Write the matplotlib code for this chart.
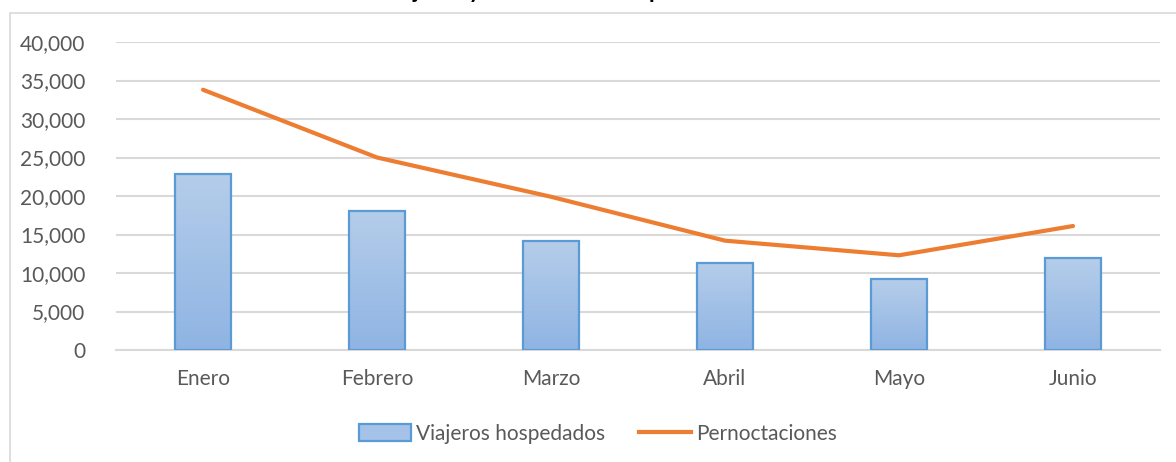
import matplotlib.pyplot as plt
import numpy as np
from matplotlib.patches import Rectangle, Patch
from matplotlib.lines import Line2D
from matplotlib.ticker import FuncFormatter
from matplotlib.colors import LinearSegmentedColormap

plt.rcParams['font.family'] = ['Lato', 'DejaVu Sans']

# datos
meses = ['Enero', 'Febrero', 'Marzo', 'Abril', 'Mayo', 'Junio']
viajeros = [22900, 18100, 14100, 11300, 9200, 11900]
pernoctaciones = [33800, 25000, 19900, 14200, 12300, 16100]
titulo = 'Viajeros y Pernoctaciones por mes'

W, H = 1176, 462
fig = plt.figure(figsize=(W / 100, H / 100), dpi=100)
ax = fig.add_axes([116 / W, (H - 350) / H, (1160 - 116) / W, 308 / H])

x = np.arange(len(meses))
bars = ax.bar(x, viajeros, width=0.32, facecolor='none', edgecolor='#5B9BD5',
              linewidth=1.6, zorder=3)

# degradado de las barras
grad = np.linspace(0, 1, 256).reshape(-1, 1)
cmap = LinearSegmentedColormap.from_list('g', ['#8FB4E3', '#B5CDEA'])
for b in bars:
    x0, w, h = b.get_x(), b.get_width(), b.get_height()
    im = ax.imshow(grad, cmap=cmap, aspect='auto', origin='lower',
                   extent=[x0, x0 + w, 0, h], zorder=2)
    im.set_clip_path(b)

ax.plot(x, pernoctaciones, color='#ED7D31', linewidth=3, zorder=4,
        solid_capstyle='round')

ax.set_xlim(-0.5, len(meses) - 0.5)
ax.set_ylim(0, 40000)
ax.set_yticks(range(0, 40001, 5000))
ax.yaxis.set_major_formatter(FuncFormatter(lambda v, p: f'{int(v):,}'))
ax.set_xticks(x)
ax.set_xticklabels(meses)
ax.tick_params(axis='both', length=0, labelsize=15, colors='#595959')
ax.tick_params(axis='y', pad=22)
ax.tick_params(axis='x', pad=14)
ax.grid(axis='y', color='#D9D9D9', linewidth=1.5, zorder=0)
ax.set_axisbelow(True)
for s in ['top', 'right', 'left']:
    ax.spines[s].set_visible(False)
ax.spines['bottom'].set_color('#D9D9D9')
ax.spines['bottom'].set_linewidth(1.5)

# marco del gráfico
fig.patches.append(Rectangle((10 / W, -0.1), 1.1, 1.1 - 13 / H,
                             transform=fig.transFigure, fill=False,
                             edgecolor='#D9D9D9', linewidth=1.2))

# título (recortado en la parte superior, como en el original)
fig.text(555 / W, 1 + 2 / H, titulo, ha='center', va='baseline',
         fontsize=16.5, fontweight='bold', color='black')

handles = [Patch(facecolor='#A5C2E8', edgecolor='#5B9BD5', linewidth=1.6),
           Line2D([0], [0], color='#ED7D31', linewidth=3)]
fig.legend(handles, ['Viajeros hospedados', 'Pernoctaciones'], loc='center',
           bbox_to_anchor=(598 / W, 1 - 434 / H), ncol=2, frameon=False,
           fontsize=15, labelcolor='#595959', handlelength=2.5,
           handleheight=0.9, handletextpad=0.25, columnspacing=1.6)

fig.savefig('out.png', dpi=100)
